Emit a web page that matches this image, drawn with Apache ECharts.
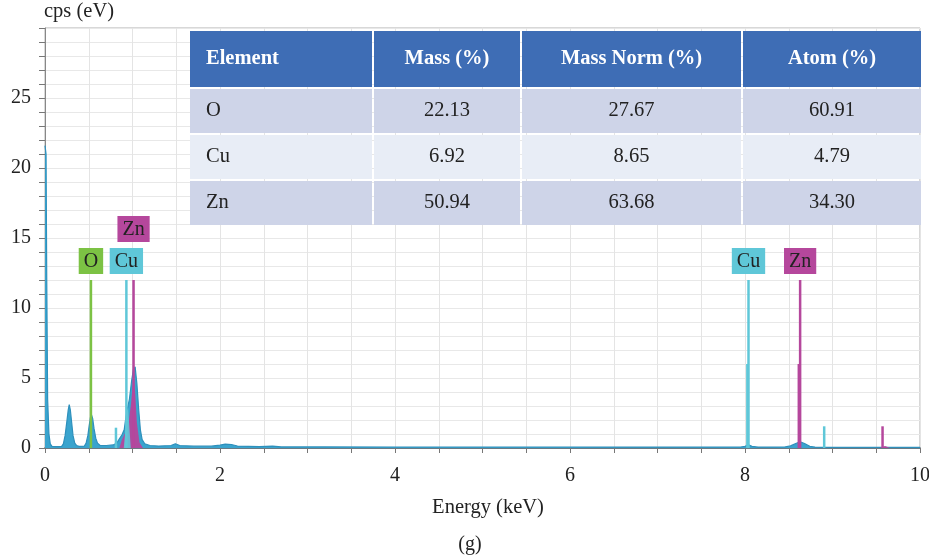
<!DOCTYPE html>
<html>
<head>
<meta charset="utf-8">
<script src="https://cdn.jsdelivr.net/npm/echarts@6/dist/echarts.min.js"></script>
<style>
html,body{margin:0;padding:0;background:#fff;}
#chart{width:929px;height:559px;}
</style>
</head>
<body>
<div id="chart"></div>
<script>
// ---------- data ----------
const specEnergy = [0, 0.012, 0.02, 0.03, 0.045, 0.06, 0.08, 0.15, 0.19, 0.21, 0.23, 0.25, 0.265, 0.277, 0.29, 0.305, 0.32, 0.34, 0.36, 0.39, 0.45, 0.47, 0.49, 0.505, 0.52, 0.53, 0.545, 0.56, 0.58, 0.6, 0.63, 0.7, 0.78, 0.82, 0.85, 0.88, 0.905, 0.925, 0.945, 0.965, 0.99, 1.01, 1.03, 1.05, 1.07, 1.09, 1.11, 1.14, 1.2, 1.3, 1.44, 1.49, 1.54, 1.7, 1.9, 2.0, 2.06, 2.13, 2.2, 2.45, 2.6, 2.7, 3.2, 4.0, 5.0, 6.0, 7.0, 7.95, 8.0, 8.04, 8.08, 8.15, 8.45, 8.52, 8.58, 8.63, 8.68, 8.74, 8.8, 9.0, 9.5, 10.0];
const specCounts = [21.6, 21.0, 12.0, 3.5, 1.0, 0.3, 0.12, 0.1, 0.12, 0.3, 0.9, 1.9, 2.7, 3.1, 2.7, 1.8, 0.9, 0.35, 0.18, 0.12, 0.14, 0.35, 0.9, 1.6, 2.2, 2.4, 2.1, 1.4, 0.7, 0.35, 0.18, 0.18, 0.22, 0.35, 0.65, 0.95, 1.3, 2.2, 2.9, 3.5, 4.8, 5.6, 5.8, 4.6, 2.8, 1.3, 0.6, 0.3, 0.18, 0.14, 0.18, 0.3, 0.18, 0.13, 0.13, 0.2, 0.28, 0.25, 0.14, 0.1, 0.14, 0.08, 0.08, 0.07, 0.07, 0.07, 0.06, 0.07, 0.12, 0.22, 0.12, 0.06, 0.07, 0.15, 0.32, 0.45, 0.32, 0.12, 0.06, 0.05, 0.05, 0.05];

const cuFitEnergy = [0.9, 0.92, 0.935, 0.95, 0.965, 0.98];
const cuFitCounts = [0, 1.4, 2.6, 2.9, 1.4, 0];

const znFitEnergy = [0.85, 0.88, 0.91, 0.95, 0.98, 1.0, 1.015, 1.03, 1.05, 1.08, 1.12, 9.54, 9.6, 9.66];
const znFitCounts = [0, 0.6, 1.0, 1.6, 3.0, 4.3, 4.8, 4.0, 1.8, 0.4, 0, 0, 0.15, 0];

const lineEnergy  = [0.525, 0.811, 0.93, 1.012, 8.027, 8.04, 8.615, 8.63, 8.905, 9.572];
const lineHeight  = [12, 1.45, 12, 12, 6, 12, 6, 12, 1.55, 1.55];
const lineElement = ['O', 'Cu', 'Cu', 'Zn', 'Cu', 'Cu', 'Zn', 'Zn', 'Cu', 'Zn'];
const lineLabeled = [true, false, true, true, false, true, false, true, false, false];

const tableHeader   = ['Element', 'Mass (%)', 'Mass Norm (%)', 'Atom (%)'];
const tableElement  = ['O', 'Cu', 'Zn'];
const tableMass     = ['22.13', '6.92', '50.94'];
const tableMassNorm = ['27.67', '8.65', '63.68'];
const tableAtom     = ['60.91', '4.79', '34.30'];

const xTickLabels = [0, 2, 4, 6, 8, 10];
const yTickLabels = [0, 5, 10, 15, 20, 25];

// ---------- styles ----------
const FONT = '"Liberation Serif", "DejaVu Serif", serif';
const elemColor = { O: '#7CC244', Cu: '#5FC7D8', Zn: '#B5479C' };

const chart = echarts.init(document.getElementById('chart'), null, { renderer: 'canvas' });

function pairs(xs, ys) { return xs.map((x, i) => [x, ys[i]]); }

const lineData = lineEnergy.map((x, i) => {
  const el = lineElement[i];
  const item = { value: [x, lineHeight[i]], itemStyle: { color: elemColor[el] } };
  if (lineLabeled[i]) {
    item.label = {
      show: true, position: 'top', formatter: el,
      distance: (el === 'Zn' && x < 2) ? 38 : 6,
      backgroundColor: elemColor[el], padding: [4, 5, 2, 5],
      color: '#222', fontFamily: FONT, fontSize: 20
    };
  }
  return item;
});

// table graphic
const colX = [190, 374, 522, 743], colW = [182, 146, 219, 178];
const rowY = [31, 89, 135, 181], rowH = [56, 44, 44, 44];
const rowBg = ['#3E6DB5', '#CED4E8', '#E8EDF6', '#CED4E8'];
const tableRows = [tableHeader].concat(tableElement.map((e, i) => [e, tableMass[i], tableMassNorm[i], tableAtom[i]]));
const graphics = [];
tableRows.forEach((row, r) => {
  row.forEach((txt, c) => {
    graphics.push({ type: 'rect', z: 100, shape: { x: colX[c], y: rowY[r], width: colW[c], height: rowH[r] }, style: { fill: rowBg[r] } });
    graphics.push({
      type: 'text', z: 101,
      x: c === 0 ? colX[c] + 16 : colX[c] + colW[c] / 2,
      y: rowY[r] + rowH[r] / 2,
      style: {
        text: txt, fill: r === 0 ? '#fff' : '#222',
        font: (r === 0 ? 'bold ' : '') + '20.5px ' + FONT,
        textAlign: c === 0 ? 'left' : 'center', textVerticalAlign: 'middle'
      }
    });
  });
});
graphics.push({ type: 'text', z: 101, x: 470, y: 545, style: { text: '(g)', fill: '#222', font: '20px ' + FONT, textAlign: 'center', textVerticalAlign: 'middle' } });

const option = {
  animation: false,
  backgroundColor: '#fff',
  grid: { left: 45, right: 9, top: 28, bottom: 111, show: true, borderColor: '#b0b0b0', borderWidth: 1, outerBoundsMode: 'none', containLabel: false },
  xAxis: {
    type: 'value', min: 0, max: 10, interval: 0.5,
    name: 'Energy (keV)', nameLocation: 'middle', nameGap: 49,
    nameTextStyle: { fontFamily: FONT, fontSize: 20.5, color: '#222', padding: [0, 0, 0, 11] },
    axisLine: { show: true, lineStyle: { color: '#3f5663', width: 1.5 } },
    axisTick: { show: true, length: 5, lineStyle: { color: '#777' } },
    axisLabel: {
      fontFamily: FONT, fontSize: 20, color: '#222', margin: 18,
      formatter: v => (xTickLabels.indexOf(v) >= 0 ? String(v) : '')
    },
    splitLine: { show: true, lineStyle: { color: '#e4e4e4' } }
  },
  yAxis: {
    type: 'value', min: 0, max: 30, interval: 1,
    name: 'cps (eV)', nameLocation: 'end', nameGap: 6,
    nameTextStyle: { fontFamily: FONT, fontSize: 20.5, color: '#222', align: 'left', padding: [0, 0, 0, -1] },
    axisLine: { show: true, lineStyle: { color: '#888' } },
    axisTick: { show: true, length: 6, lineStyle: { color: '#777' } },
    axisLabel: {
      fontFamily: FONT, fontSize: 20, color: '#222', margin: 14,
      formatter: v => (yTickLabels.indexOf(v) >= 0 ? String(v) : '')
    },
    splitLine: { show: true, lineStyle: { color: '#e8e8e8' } }
  },
  series: [
    {
      name: 'spectrum', type: 'line', data: pairs(specEnergy, specCounts),
      symbol: 'none', z: 2,
      lineStyle: { color: '#2E90BC', width: 1.2 },
      areaStyle: { color: '#3AA4CE', opacity: 1 }
    },
    {
      name: 'Zn fit', type: 'line', data: pairs(znFitEnergy, znFitCounts),
      symbol: 'none', z: 3,
      lineStyle: { width: 0 },
      areaStyle: { color: '#B5479C', opacity: 0.95 }
    },
    {
      name: 'Cu fit', type: 'line', data: pairs(cuFitEnergy, cuFitCounts),
      symbol: 'none', z: 3,
      lineStyle: { width: 0 },
      areaStyle: { color: '#5FC7D8', opacity: 0.9 }
    },
    {
      name: 'lines', type: 'bar', data: lineData, barWidth: 2.5, z: 4
    }
  ],
  graphic: graphics
};
chart.setOption(option);
</script>
</body>
</html>
